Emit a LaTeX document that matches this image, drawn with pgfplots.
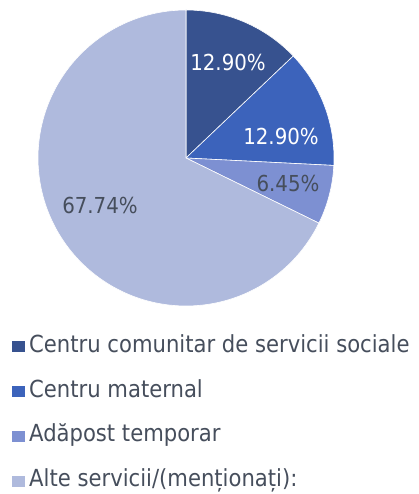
\documentclass[border=0pt]{standalone}
\usepackage{pgfplots}
\pgfplotsset{compat=1.18}
\usepackage{fontspec}
\setmainfont{DejaVu Sans Condensed}
\definecolor{cA}{HTML}{37528F}
\definecolor{cB}{HTML}{3C63BB}
\definecolor{cC}{HTML}{7D90D2}
\definecolor{cD}{HTML}{AFBADD}
\definecolor{txt}{HTML}{464E5C}
\begin{document}
\begin{tikzpicture}
\path[use as bounding box] (0,0) rectangle (419pt,494pt);
\begin{axis}[at={(186pt,336pt)}, anchor=center, scale only axis,
  width=296pt, height=296pt, xmin=-1, xmax=1, ymin=-1, ymax=1,
  hide axis, clip=false,
  legend style={at={(axis description cs:-0.0878,-0.098)}, anchor=north west,
    draw=none, fill=none, inner sep=0pt, row sep=21.8pt, column sep=3pt,
    font=\fontsize{23.5pt}{28pt}\selectfont, text=txt,
    nodes={inner sep=1pt, text height=16pt, text depth=5pt}},
  legend cell align=left,
  legend image code/.code={\fill[#1,draw=none] (0pt,-5.5pt) rectangle (13pt,5.5pt);}]
% slices: 12.90, 12.90, 6.45, 67.74 (%), clockwise from top
\addplot[fill=cA, draw=white, line width=0.6pt, domain=43.56:90, samples=60]
  ({cos(x)},{sin(x)}) -- (axis cs:0,0) -- cycle;
\addlegendentry{Centru comunitar de servicii sociale}
\addplot[fill=cB, draw=white, line width=0.6pt, domain=-2.88:43.56, samples=60]
  ({cos(x)},{sin(x)}) -- (axis cs:0,0) -- cycle;
\addlegendentry{Centru maternal}
\addplot[fill=cC, draw=white, line width=0.6pt, domain=-26.10:-2.88, samples=40]
  ({cos(x)},{sin(x)}) -- (axis cs:0,0) -- cycle;
\addlegendentry{Adăpost temporar}
\addplot[fill=cD, draw=white, line width=0.6pt, domain=90:333.9, samples=200]
  ({cos(x)},{sin(x)}) -- (axis cs:0,0) -- cycle;
\addlegendentry{Alte servicii/(menționați):}
\node[text=white, font=\fontsize{22pt}{26pt}\selectfont] at (axis cs:0.284,0.642) {12.90\%};
\node[text=white, font=\fontsize{22pt}{26pt}\selectfont] at (axis cs:0.642,0.142) {12.90\%};
\node[text=txt, font=\fontsize{22pt}{26pt}\selectfont] at (axis cs:0.689,-0.169) {6.45\%};
\node[text=txt, font=\fontsize{22pt}{26pt}\selectfont] at (axis cs:-0.581,-0.324) {67.74\%};
\end{axis}
\end{tikzpicture}
\end{document}
